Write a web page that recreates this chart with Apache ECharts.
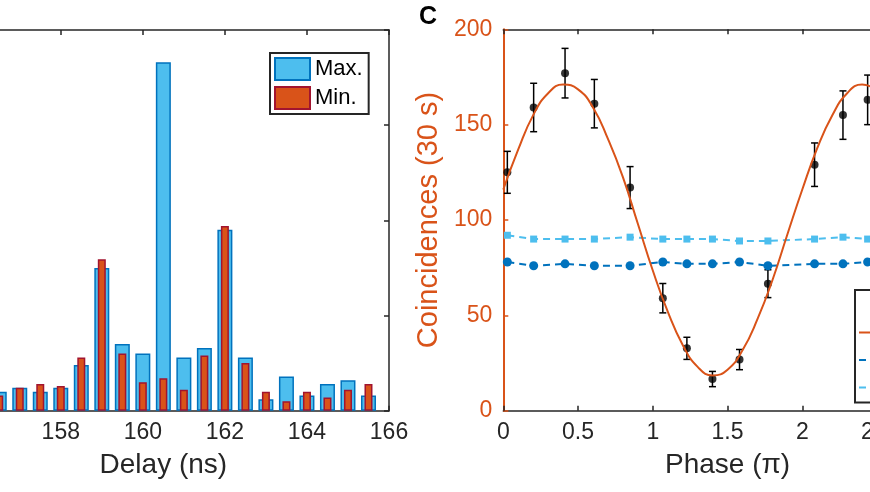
<!DOCTYPE html>
<html><head><meta charset="utf-8">
<script src="https://cdn.jsdelivr.net/npm/echarts@6/dist/echarts.min.js"></script>
<style>html,body{margin:0;padding:0;background:#fff}#c{width:870px;height:492px}</style>
</head><body><div id="c"></div>
<script>
// Left panel: delay histogram
const delays = [156.5, 157, 157.5, 158, 158.5, 159, 159.5, 160, 160.5, 161, 161.5, 162, 162.5, 163, 163.5, 164, 164.5, 165, 165.5];
const maxCounts = [20, 24, 20, 24, 48, 150, 70, 60, 366, 56, 66, 190, 56, 12, 36, 16, 28, 32, 16];
const minCounts = [16, 24, 28, 26, 56, 159, 60, 30, 34, 22, 58, 194, 50, 20, 10, 20, 14, 22, 28];
const delayTicks = [158, 160, 162, 164, 166];

// Right panel: interference fringe
const phases = [0.027, 0.203, 0.413, 0.609, 0.848, 1.067, 1.228, 1.399, 1.58, 1.77, 2.082, 2.272, 2.437];
const coincidences = [125, 159, 177, 161, 117, 59, 32.7, 16.6, 26.8, 66.6, 129, 155, 163];
const coincErr = [11, 12.7, 13, 12.7, 11, 7.7, 5.8, 4, 5.3, 7.3, 11.4, 12.7, 13];
const singlesA = [78, 76, 77, 76, 76, 78, 77, 77, 78, 76, 77, 77, 78];
const singlesB = [92, 90, 90, 90, 91, 90, 90, 90, 89, 89, 90, 91, 90];
const fitPhase = [0, 0.1, 0.2, 0.3, 0.4, 0.5, 0.6, 0.7, 0.8, 0.9, 1.0, 1.1, 1.2, 1.3, 1.4, 1.5, 1.6, 1.7, 1.8, 1.9, 2.0, 2.1, 2.2, 2.3, 2.4, 2.5];
const fitValues = [116, 137, 155, 166.5, 171, 168.5, 159, 142.5, 122.5, 98, 73.5, 52, 34.5, 23, 18.5, 21.5, 31.7, 48, 68.4, 92.4, 116, 137.7, 154.8, 166.5, 171, 168];

const FONT = '"Liberation Sans", Arial, sans-serif';
const INK = '#262626';
const ORANGE = '#D95319';

const chart = echarts.init(document.getElementById('c'), null, {renderer: 'canvas'});

const boxAxis = (extra) => Object.assign({
  type: 'value',
  axisLine: {show: true, onZero: false, lineStyle: {color: INK, width: 1.5}},
  axisTick: {show: true, inside: true, length: 5, lineStyle: {color: INK, width: 1.5}},
  splitLine: {show: false},
  axisLabel: {show: false}
}, extra);

const option = {
  animation: false,
  backgroundColor: '#fff',
  textStyle: {fontFamily: FONT},
  grid: [
    {left: -62.3, top: 30, width: 451.3, height: 380.7, outerBoundsMode: 'none', containLabel: false},
    {left: 503.3, top: 29.3, width: 448.5, height: 381.4, outerBoundsMode: 'none', containLabel: false}
  ],
  xAxis: [
    boxAxis({gridIndex: 0, min: 155, max: 166, position: 'bottom',
      axisTick: {show: true, inside: true, length: 5, customValues: delayTicks, lineStyle: {color: INK, width: 1.5}},
      axisLabel: {show: true, customValues: delayTicks, fontSize: 23, color: INK, margin: 10, fontFamily: FONT},
      name: 'Delay (ns)', nameLocation: 'middle', nameGap: 41,
      nameTextStyle: {fontSize: 28, color: INK, fontFamily: FONT}}),
    boxAxis({gridIndex: 0, min: 155, max: 166, position: 'top',
      axisTick: {show: true, inside: true, length: 5, customValues: delayTicks, lineStyle: {color: INK, width: 1.5}}}),
    boxAxis({gridIndex: 1, min: 0, max: 3, interval: 0.5, position: 'bottom',
      axisLabel: {show: true, fontSize: 23, color: INK, margin: 10, fontFamily: FONT},
      name: 'Phase (π)', nameLocation: 'middle', nameGap: 41,
      nameTextStyle: {fontSize: 28, color: INK, fontFamily: FONT}}),
    boxAxis({gridIndex: 1, min: 0, max: 3, interval: 0.5, position: 'top'})
  ],
  yAxis: [
    boxAxis({gridIndex: 0, min: 0, max: 400, interval: 100, position: 'right'}),
    boxAxis({gridIndex: 1, min: 0, max: 200, interval: 50, position: 'left',
      axisLine: {show: true, onZero: false, lineStyle: {color: ORANGE, width: 2}},
      axisTick: {show: true, inside: true, length: 5, lineStyle: {color: ORANGE, width: 1.5}},
      axisLabel: {show: true, fontSize: 23, color: ORANGE, margin: 11, fontFamily: FONT},
      name: 'Coincidences (30 s)', nameLocation: 'middle', nameGap: 54,
      nameTextStyle: {fontSize: 29, color: ORANGE, fontFamily: FONT}})
  ],
  legend: [
    {
      data: [{name: 'Max.', icon: 'rect'}, {name: 'Min.', icon: 'rect'}], orient: 'vertical', left: 270, top: 53,
      itemWidth: 35, itemHeight: 22, itemGap: 5, padding: [4, 6, 4, 4],
      borderColor: INK, borderWidth: 2, backgroundColor: '#fff',
      textStyle: {fontSize: 22, color: '#000', fontFamily: FONT}, selectedMode: false
    },
    {
      data: ['Data', 'Fit', 'Singles A', 'Singles B'], orient: 'vertical', left: 855, top: 290,
      itemWidth: 40, itemHeight: 14, itemGap: 5.5, padding: [4, 8, 4, 3],
      borderColor: INK, borderWidth: 2, backgroundColor: '#fff',
      textStyle: {fontSize: 22, color: '#000', fontFamily: FONT}, selectedMode: false
    }
  ],
  graphic: [
    {type: 'text', left: 419, top: 5, style: {text: 'C', font: 'bold 25px ' + FONT, fill: '#000'}}
  ],
  series: [
    {name: 'Max.', type: 'bar', xAxisIndex: 0, yAxisIndex: 0, barWidth: 15,
      data: delays.map((d, i) => [d, maxCounts[i]]),
      itemStyle: {color: '#4DBEEE', borderColor: '#0072BD', borderWidth: 1.5}},
    {name: 'Min.', type: 'bar', xAxisIndex: 1, yAxisIndex: 0, barWidth: 8,
      data: delays.map((d, i) => [d, minCounts[i]]),
      itemStyle: {color: ORANGE, borderColor: '#A2142F', borderWidth: 1.5}},
    {name: 'Singles B', type: 'line', xAxisIndex: 2, yAxisIndex: 1,
      data: phases.map((p, i) => [p, singlesB[i]]),
      symbol: 'rect', symbolSize: 7,
      lineStyle: {color: '#4DBEEE', width: 2, type: [7, 5]},
      itemStyle: {color: '#4DBEEE'}},
    {name: 'Singles A', type: 'line', xAxisIndex: 2, yAxisIndex: 1,
      data: phases.map((p, i) => [p, singlesA[i]]),
      symbol: 'circle', symbolSize: 9,
      lineStyle: {color: '#0072BD', width: 2, type: [7, 5]},
      itemStyle: {color: '#0072BD'}},
    {name: 'Fit', type: 'line', xAxisIndex: 2, yAxisIndex: 1, smooth: true, showSymbol: false, symbol: 'none',
      data: fitPhase.map((p, i) => [p, fitValues[i]]),
      lineStyle: {color: ORANGE, width: 2}, itemStyle: {color: ORANGE}},
    {name: 'Error', type: 'custom', xAxisIndex: 2, yAxisIndex: 1,
      data: phases.map((p, i) => [p, coincidences[i], coincErr[i]]),
      encode: {x: 0, y: 1},
      renderItem: function (params, api) {
        const x = api.value(0), y = api.value(1), e = api.value(2);
        const t = api.coord([x, y + e]), b = api.coord([x, y - e]);
        const w = 3.5, st = {stroke: '#000', lineWidth: 1.5};
        return {type: 'group', children: [
          {type: 'line', shape: {x1: t[0], y1: t[1], x2: b[0], y2: b[1]}, style: st},
          {type: 'line', shape: {x1: t[0] - w, y1: t[1], x2: t[0] + w, y2: t[1]}, style: st},
          {type: 'line', shape: {x1: b[0] - w, y1: b[1], x2: b[0] + w, y2: b[1]}, style: st}
        ]};
      }},
    {name: 'Data', type: 'scatter', xAxisIndex: 2, yAxisIndex: 1, symbolSize: 8,
      data: phases.map((p, i) => [p, coincidences[i]]),
      itemStyle: {color: '#000'}}
  ]
};
chart.setOption(option);
</script></body></html>
